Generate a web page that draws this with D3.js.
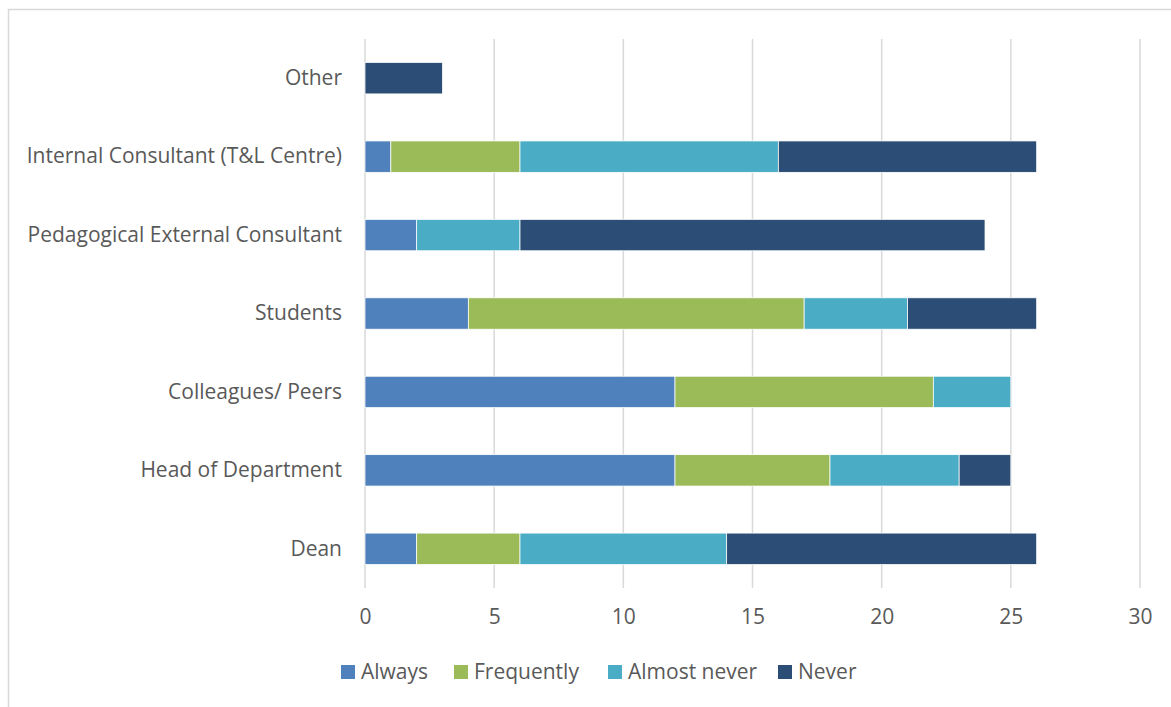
<!DOCTYPE html>
<html>
<head>
<meta charset="utf-8">
<script src="https://cdn.jsdelivr.net/npm/d3@7"></script>
<style>
  body { margin: 0; background: #fff; }
  text { font-family: "Open Sans", "Noto Sans", sans-serif; fill: #595959; }
</style>
</head>
<body>
<svg id="chart" width="1171" height="707"></svg>
<script>
var categories = ["Other", "Internal Consultant (T&L Centre)", "Pedagogical External Consultant",
                  "Students", "Colleagues/ Peers", "Head of Department", "Dean"];
var seriesNames = ["Always", "Frequently", "Almost never", "Never"];
var always      = [0, 1, 2, 4, 12, 12, 2];
var frequently  = [0, 5, 0, 13, 10, 6, 4];
var almostNever = [0, 10, 4, 4, 3, 5, 8];
var never       = [3, 10, 18, 5, 0, 2, 12];
var xTicks = [0, 5, 10, 15, 20, 25, 30];
var colors = ["#4f81bd", "#9bbb59", "#4bacc6", "#2c4d75"];

var svg = d3.select("#chart");

// chart border
svg.append("rect")
    .attr("x", 8.5).attr("y", 9.5)
    .attr("width", 1180).attr("height", 720)
    .attr("fill", "none").attr("stroke", "#d9d9d9").attr("stroke-width", 1.5);

var margin = {left: 365, right: 31, top: 39, bottom: 119};
var width = 1171 - margin.left - margin.right;
var height = 707 - margin.top - margin.bottom;

var x = d3.scaleLinear().domain([0, 30]).range([0, width]);
var y = d3.scaleBand().domain(categories).range([0, height]).paddingInner(0.6).paddingOuter(0.3);

var g = svg.append("g").attr("transform", "translate(" + margin.left + "," + margin.top + ")");

// gridlines
g.selectAll(".grid").data(xTicks).enter().append("line")
    .attr("x1", d => x(d)).attr("x2", d => x(d))
    .attr("y1", 0).attr("y2", height)
    .attr("stroke", "#d9d9d9").attr("stroke-width", 1.5);

var rows = categories.map(function(c, i) {
    return {cat: c, Always: always[i], Frequently: frequently[i], "Almost never": almostNever[i], Never: never[i]};
});
var stacked = d3.stack().keys(seriesNames)(rows);

g.selectAll(".series").data(stacked).enter().append("g")
    .attr("fill", (d, i) => colors[i])
    .selectAll("rect").data(d => d.filter(p => p[1] - p[0] > 0)).enter().append("rect")
    .attr("x", d => x(d[0]))
    .attr("y", d => y(d.data.cat))
    .attr("width", d => x(d[1]) - x(d[0]))
    .attr("height", y.bandwidth())
    .attr("stroke", "#fff").attr("stroke-width", 0.75);

// x axis labels
var xAxis = g.append("g").attr("transform", "translate(0," + height + ")")
    .call(d3.axisBottom(x).tickValues(xTicks).tickSize(0).tickPadding(21));
xAxis.select(".domain").remove();
xAxis.selectAll("text").style("font-size", "21px").attr("fill", "#595959")
    .style("font-family", "'Open Sans', sans-serif");

// y axis labels
var yAxis = g.append("g")
    .call(d3.axisLeft(y).tickSize(0).tickPadding(23));
yAxis.select(".domain").remove();
yAxis.selectAll("text").style("font-size", "21px").attr("fill", "#595959")
    .style("font-family", "'Open Sans', sans-serif");

// legend
var legendX = [341, 454, 608, 778];
var legend = svg.append("g").attr("transform", "translate(0,672)");
var items = legend.selectAll("g").data(seriesNames).enter().append("g")
    .attr("transform", (d, i) => "translate(" + legendX[i] + ",0)");
items.append("rect").attr("x", 0).attr("y", -7).attr("width", 14).attr("height", 14)
    .attr("fill", (d, i) => colors[i]);
items.append("text").attr("x", 20).attr("dy", "0.35em").style("font-size", "21px").text(d => d);
</script>
</body>
</html>
